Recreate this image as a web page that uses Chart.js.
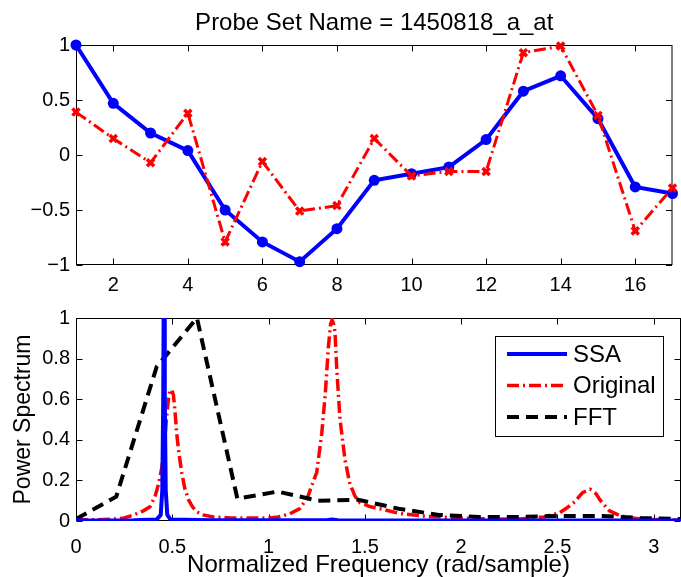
<!DOCTYPE html>
<html>
<head>
<meta charset="utf-8">
<script src="https://cdn.jsdelivr.net/npm/chart.js@4.4.1/dist/chart.umd.min.js"></script>
<style>
  html, body { margin: 0; padding: 0; background: #fff; }
  #wrap { position: relative; width: 681px; height: 577px; }
  canvas { position: absolute; left: 0; }
  #top { top: 0; }
  #bottom { top: 300px; }
</style>
</head>
<body>
<div id="wrap">
  <canvas id="top" width="681" height="300"></canvas>
  <canvas id="bottom" width="681" height="277"></canvas>
</div>
<script>
// top panel: sample index vs normalised expression
const samples = [1, 2, 3, 4, 5, 6, 7, 8, 9, 10, 11, 12, 13, 14, 15, 16, 17];
const ssaSeries = [1.0, 0.47, 0.20, 0.04, -0.50, -0.79, -0.97, -0.67, -0.23, -0.17, -0.11, 0.14, 0.58, 0.72, 0.33, -0.29, -0.35];
const origSeries = [0.39, 0.15, -0.07, 0.38, -0.79, -0.06, -0.51, -0.46, 0.15, -0.19, -0.15, -0.15, 0.93, 0.99, 0.36, -0.69, -0.30];
const topXTicks = [2, 4, 6, 8, 10, 12, 14, 16];
const topYTicks = [-1, -0.5, 0, 0.5, 1];
const topTitle = 'Probe Set Name = 1450818_a_at';

// bottom panel: power spectra
const ssaFreq = [0, 0.3, 0.42, 0.44, 0.448, 0.453, 0.457, 0.461, 0.466, 0.474, 0.49, 0.7, 1.3, 1.33, 1.36, 2.0, 3.142];
const ssaPower = [0.003, 0.004, 0.008, 0.03, 0.15, 0.6, 1.4, 0.6, 0.15, 0.03, 0.008, 0.004, 0.004, 0.007, 0.004, 0.003, 0.003];

const origFreq = [0, 0.1, 0.2, 0.25, 0.3, 0.35, 0.384, 0.41, 0.428, 0.445, 0.454, 0.463, 0.471, 0.48, 0.488, 0.497,
  0.506, 0.515, 0.523, 0.535, 0.549, 0.565, 0.584, 0.605, 0.627, 0.66, 0.713, 0.8, 0.9, 1.0, 1.05, 1.11, 1.16, 1.2,
  1.215, 1.25, 1.276, 1.294, 1.31, 1.322, 1.33, 1.338, 1.345, 1.354, 1.371, 1.397, 1.423, 1.45, 1.475, 1.53, 1.58,
  1.68, 1.82, 2.0, 2.17, 2.3, 2.43, 2.47, 2.51, 2.55, 2.59, 2.63, 2.67, 2.70, 2.72, 2.77, 2.82, 2.86, 2.93, 3.0, 3.07, 3.142];
const origPower = [0.005, 0.006, 0.01, 0.015, 0.03, 0.05, 0.07, 0.12, 0.18, 0.26, 0.33, 0.42, 0.52, 0.6, 0.645, 0.645,
  0.62, 0.53, 0.43, 0.33, 0.24, 0.16, 0.105, 0.07, 0.045, 0.03, 0.02, 0.015, 0.015, 0.015, 0.02, 0.035, 0.06, 0.11,
  0.15, 0.24, 0.43, 0.62, 0.85, 0.97, 0.99, 0.97, 0.93, 0.75, 0.5, 0.30, 0.18, 0.12, 0.09, 0.07, 0.06,
  0.037, 0.023, 0.015, 0.009, 0.01, 0.02, 0.03, 0.04, 0.065, 0.095, 0.14, 0.156, 0.135, 0.105, 0.05, 0.028, 0.018, 0.01, 0.008, 0.005, 0.004];

const fftFreq = [0, 0.209, 0.419, 0.628, 0.838, 1.047, 1.257, 1.466, 1.676, 1.885, 2.094, 2.304, 2.513, 2.723, 2.932, 3.142];
const fftPower = [0.01, 0.12, 0.76, 1.0, 0.11, 0.145, 0.10, 0.105, 0.06, 0.03, 0.02, 0.02, 0.025, 0.025, 0.015, 0.01];

const botXTicks = [0, 0.5, 1, 1.5, 2, 2.5, 3];
const botYTicks = [0, 0.2, 0.4, 0.6, 0.8, 1];

const FONT = '"Liberation Sans", Arial, Helvetica, sans-serif';
Chart.defaults.font.family = FONT;
Chart.defaults.color = '#000';

const xy = (xs, ys) => xs.map((v, i) => ({ x: v, y: ys[i] }));
const fmt = v => (v < 0 ? '\u2212' + Math.abs(v) : String(v));

// matlab style box with ticks pointing inward
const boxPlugin = {
  id: 'box',
  beforeDatasetsDraw(chart) {
    const { ctx, chartArea: a, scales: { x, y } } = chart;
    const L = a.left + 0.5, R = a.right - 0.5, T = a.top + 0.5, B = a.bottom - 0.5;
    ctx.save();
    ctx.strokeStyle = '#000';
    ctx.lineWidth = 1;
    ctx.beginPath();
    x.ticks.forEach(t => {
      const px = Math.round(x.getPixelForValue(t.value)) + 0.5;
      ctx.moveTo(px, B); ctx.lineTo(px, B - 6);
      ctx.moveTo(px, T); ctx.lineTo(px, T + 6);
    });
    y.ticks.forEach(t => {
      const py = Math.round(y.getPixelForValue(t.value)) + 0.5;
      ctx.moveTo(L, py); ctx.lineTo(L + 6, py);
      ctx.moveTo(R, py); ctx.lineTo(R - 6, py);
    });
    ctx.stroke();
    ctx.strokeRect(L, T, R - L, B - T);
    ctx.restore();
  }
};

// title centred over the plot box, not the whole canvas
const axesTitle = {
  id: 'axesTitle',
  afterDraw(chart, args, opts) {
    const { ctx, chartArea: a } = chart;
    ctx.save();
    ctx.fillStyle = '#000';
    ctx.font = '24px ' + FONT;
    ctx.textAlign = 'center';
    ctx.textBaseline = 'middle';
    ctx.fillText(opts.text, (a.left + a.right) / 2, a.top - 22);
    ctx.restore();
  }
};

const legendPlugin = {
  id: 'boxLegend',
  afterDatasetsDraw(chart) {
    const { ctx, chartArea: a } = chart;
    const w = 168, h = 100;
    const x0 = Math.round(a.right - 18 - w), y0 = Math.round(a.top + 18);
    ctx.save();
    ctx.fillStyle = '#fff';
    ctx.fillRect(x0, y0, w, h);
    ctx.strokeStyle = '#000';
    ctx.lineWidth = 1;
    ctx.strokeRect(x0 + 0.5, y0 + 0.5, w, h);
    chart.data.datasets.forEach((ds, i) => {
      const yy = y0 + 18 + i * 31.5;
      ctx.strokeStyle = ds.borderColor;
      ctx.lineWidth = ds.borderWidth;
      ctx.setLineDash(ds.borderDash || []);
      ctx.beginPath();
      ctx.moveTo(x0 + 12, yy);
      ctx.lineTo(x0 + 72, yy);
      ctx.stroke();
      ctx.setLineDash([]);
      ctx.fillStyle = '#000';
      ctx.font = '24px ' + FONT;
      ctx.textBaseline = 'middle';
      ctx.fillText(ds.label, x0 + 78, yy + 1);
    });
    ctx.restore();
  }
};

const plainGrid = { display: false, drawTicks: false };

new Chart(document.getElementById('top'), {
  type: 'line',
  data: {
    datasets: [
      {
        label: 'SSA',
        data: xy(samples, ssaSeries),
        borderColor: '#0000ff',
        borderWidth: 4,
        pointStyle: 'circle',
        pointRadius: 5.5,
        pointBackgroundColor: '#0000ff',
        pointBorderWidth: 0,
        order: 1
      },
      {
        label: 'Original',
        data: xy(samples, origSeries),
        borderColor: '#ff0000',
        borderWidth: 3,
        borderDash: [12, 4, 2, 4],
        pointStyle: 'crossRot',
        pointRadius: 5,
        pointBorderColor: '#ff0000',
        pointBorderWidth: 3.5,
        order: 0
      }
    ]
  },
  options: {
    responsive: false,
    animation: false,
    clip: false,
    layout: { padding: { left: 0, right: 0, top: 45, bottom: 0 } },
    plugins: {
      legend: { display: false },
      tooltip: { enabled: false },
      axesTitle: { text: topTitle }
    },
    scales: {
      x: {
        type: 'linear',
        min: 1, max: 17,
        grid: plainGrid,
        border: { display: false },
        afterBuildTicks: s => { s.ticks = topXTicks.map(v => ({ value: v })); },
        afterFit: s => { s.height = 35; },
        ticks: { font: { size: 20 }, padding: 8, maxRotation: 0, autoSkip: false, callback: v => fmt(v) }
      },
      y: {
        min: -1, max: 1,
        grid: plainGrid,
        border: { display: false },
        afterBuildTicks: s => { s.ticks = topYTicks.map(v => ({ value: v })); },
        afterFit: s => { s.width = 76; },
        ticks: { font: { size: 20 }, padding: 6, autoSkip: false, callback: v => fmt(v) }
      }
    }
  },
  plugins: [boxPlugin, axesTitle]
});

new Chart(document.getElementById('bottom'), {
  type: 'line',
  data: {
    datasets: [
      {
        label: 'SSA',
        data: xy(ssaFreq, ssaPower),
        borderColor: '#0000ff',
        borderWidth: 4,
        pointRadius: 0,
        order: 0
      },
      {
        label: 'Original',
        data: xy(origFreq, origPower),
        borderColor: '#ff0000',
        borderWidth: 3.5,
        borderDash: [12, 4, 2, 4],
        pointRadius: 0,
        order: 2
      },
      {
        label: 'FFT',
        data: xy(fftFreq, fftPower),
        borderColor: '#000000',
        borderWidth: 4,
        borderDash: [12, 7],
        pointRadius: 0,
        order: 1
      }
    ]
  },
  options: {
    responsive: false,
    animation: false,
    layout: { padding: { left: 0, right: 0, top: 3, bottom: 0 } },
    plugins: {
      legend: { display: false },
      tooltip: { enabled: false }
    },
    scales: {
      x: {
        type: 'linear',
        min: 0, max: 3.1416,
        grid: plainGrid,
        border: { display: false },
        afterBuildTicks: s => { s.ticks = botXTicks.map(v => ({ value: v })); },
        afterFit: s => { s.height = 56; },
        ticks: { font: { size: 20 }, padding: 14, maxRotation: 0, autoSkip: false, callback: v => fmt(v) },
        title: {
          display: true,
          text: 'Normalized Frequency (rad/sample)',
          font: { size: 24 },
          padding: { top: 0, bottom: -3 }
        }
      },
      y: {
        min: 0, max: 1,
        grid: plainGrid,
        border: { display: false },
        afterBuildTicks: s => { s.ticks = botYTicks.map(v => ({ value: v })); },
        afterFit: s => { s.width = 76; },
        ticks: { font: { size: 20 }, padding: 6, autoSkip: false, callback: v => fmt(v) },
        title: {
          display: true,
          text: 'Power Spectrum',
          font: { size: 23 },
          padding: { top: 10, bottom: 0 }
        }
      }
    }
  },
  plugins: [boxPlugin, legendPlugin]
});
</script>
</body>
</html>
